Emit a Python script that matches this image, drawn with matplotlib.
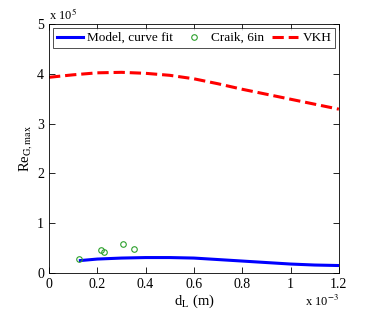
import numpy as np
import matplotlib.pyplot as plt

plt.rcParams['font.family'] = ['Liberation Serif', 'DejaVu Serif']
plt.rcParams['mathtext.fontset'] = 'stix'

# model curve fit (x in 1e-3 m, y in 1e5)
model_x = [0.13, 0.2, 0.3, 0.4, 0.5, 0.6, 0.7, 0.8, 0.9, 1.0, 1.1, 1.2]
model_y = [0.25, 0.28, 0.30, 0.31, 0.31, 0.30, 0.27, 0.24, 0.21, 0.18, 0.16, 0.15]

# Craik, 6in data
craik_x = [0.125, 0.215, 0.229, 0.306, 0.353]
craik_y = [0.29, 0.46, 0.42, 0.58, 0.49]

# VKH curve
vkh_x = [0.0, 0.1, 0.2, 0.3, 0.4, 0.5, 0.6, 0.7, 0.8, 0.9, 1.0, 1.1, 1.2]
vkh_y = [3.93, 3.98, 4.02, 4.03, 4.01, 3.97, 3.90, 3.80, 3.69, 3.59, 3.49, 3.39, 3.29]

fig = plt.figure(figsize=(3.74, 3.12), dpi=100)
ax = fig.add_axes([0.131, 0.125, 0.775, 0.798])

ax.plot(model_x, model_y, '-', color='#0000ff', lw=2.2, label='Model, curve fit')
ax.plot(craik_x, craik_y, 'o', mfc='none', mec='#2ca02c', ms=4, mew=0.8,
        color='#2ca02c', label='Craik, 6in')
ax.plot(vkh_x, vkh_y, '--', color='#ff0000', lw=2.2, label='VKH')

ax.set_xlim(0, 1.2)
ax.set_ylim(0, 5)
ax.set_xticks([0, 0.2, 0.4, 0.6, 0.8, 1.0, 1.2])
ax.set_xticklabels(['0', '0.2', '0.4', '0.6', '0.8', '1', '1.2'])
ax.set_yticks([0, 1, 2, 3, 4, 5])
ax.set_yticklabels(['0', '1', '2', '3', '4', '5'])
ax.tick_params(direction='in', top=True, right=True, labelsize=10, length=4, width=0.6)
for s in ax.spines.values():
    s.set_linewidth(0.6)

ax.set_xlabel(r'd$_\mathrm{L}$ (m)', fontsize=10.5, labelpad=1)
ax.set_ylabel(r'Re$_\mathrm{G,max}$', fontsize=10.5, labelpad=2)
ax.text(0.0, 1.005, 'x 10$^{5}$', transform=ax.transAxes, fontsize=9,
        ha='left', va='bottom')
ax.text(1.0, -0.085, 'x 10$^{-3}$', transform=ax.transAxes, fontsize=9,
        ha='right', va='top')

leg = ax.legend(loc='upper center', ncol=3, fontsize=9.5, frameon=True,
                fancybox=False, edgecolor='black', handlelength=2.0,
                columnspacing=0.6, handletextpad=0.3, borderpad=0.3,
                borderaxespad=0.3, bbox_to_anchor=(0.5, 1.0))
leg.get_frame().set_linewidth(0.6)

fig.savefig('out.png', dpi=100)
